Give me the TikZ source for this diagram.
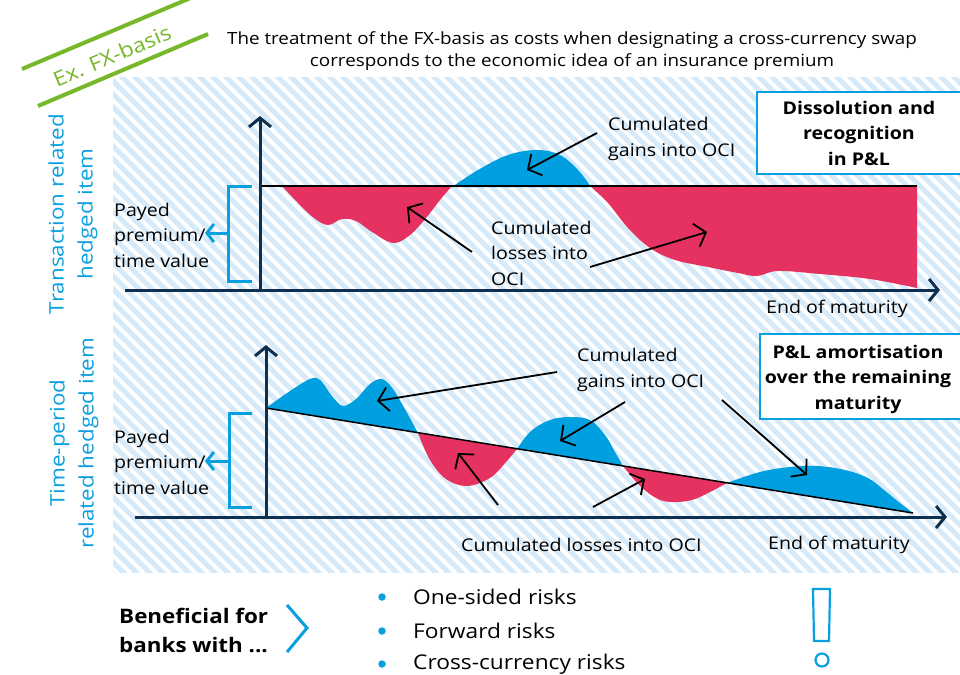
\documentclass[tikz,border=0pt]{standalone}
\usepackage{fontspec}
\setmainfont[FakeStretch=1.12]{Open Sans}
\usetikzlibrary{arrows.meta}

\definecolor{navy}{HTML}{0E2F4E}
\definecolor{cyanblue}{HTML}{0AA0E0}
\definecolor{lossred}{HTML}{E63260}
\definecolor{gainblue}{HTML}{00A0E0}
\definecolor{exgreen}{HTML}{76B82A}
\definecolor{hatchblue}{HTML}{D6EAF9}

\begin{document}
\begin{tikzpicture}[x=1pt,y=-1pt,
  axisline/.style={draw=navy, line width=3pt, -{Straight Barb[length=9pt,width=22pt]}},
  callout/.style={draw=black, line width=1.8pt, -{Straight Barb[length=10pt,width=24pt]}},
  bracketline/.style={draw=cyanblue, line width=3pt},
  bracketarrow/.style={draw=cyanblue, line width=3pt, -{Straight Barb[length=7pt,width=18pt]}},
  basetext/.style={inner sep=0pt, font=\fontsize{17.5}{25.5}\selectfont, align=left},
  sidelabel/.style={inner sep=0pt, text=cyanblue, font=\fontsize{20}{29}\selectfont, align=center, rotate=90},
  infobox/.style={draw=cyanblue, line width=2.5pt, fill=white, inner sep=0pt},
  infotext/.style={inner sep=0pt, font=\bfseries\fontsize{17.5}{25.5}\selectfont, align=center},
  lossarea/.style={fill=lossred},
  gainarea/.style={fill=gainblue},
  refline/.style={draw=black, line width=1.5pt},
  bullet/.style={circle, fill=cyanblue, inner sep=0pt, minimum size=7.5pt},
  listtext/.style={inner sep=0pt, anchor=west, font=\fontsize{20.3}{25}\selectfont}
]
\useasboundingbox (0,0) rectangle (960,674);
\fill[white] (0,0) rectangle (960,674);

% striped background band
\begin{scope}
  \clip (113,78) rectangle (960,572);
  \foreach \s in {-600,-587,...,960}
    \draw[hatchblue, line width=5pt] (\s,70) -- ++(510,510);
\end{scope}

% tag in the upper left corner
\coordinate (tagA1) at (22,69);
\coordinate (tagA2) at (200,-6);
\coordinate (tagB1) at (38,106);
\coordinate (tagB2) at (208,34);
\draw[exgreen, line width=4pt] (tagA1) -- (tagA2);
\draw[exgreen, line width=4pt] (tagB1) -- (tagB2);
\node[inner sep=0pt, text=exgreen, rotate=23, font=\fontsize{20.5}{25}\selectfont] (tag) at (112,56) {Ex. FX-basis};

% title
\node[inner sep=0pt, align=center, font=\fontsize{16.8}{22}\selectfont] (title) at (572,51)
  {The treatment of the FX-basis as costs when designating a cross-currency swap\\corresponds to the economic idea of an insurance premium};

% ---------- upper panel: transaction related hedged item ----------
\node[sidelabel] (lab1) at (73,214) {Transaction related\\hedged item};

% areas between curve and reference level
\fill[lossarea] plot[smooth, tension=0.6] coordinates {(282,186) (298,203) (314,218) (328,225) (342,219) (356,221) (372,232) (393,243) (410,235) (426,218) (440,200) (452,186)} -- cycle;
\fill[gainarea] plot[smooth, tension=0.6] coordinates {(452,187) (478,170) (508,155) (537,150) (560,155) (578,170) (591,187)} -- cycle;
\fill[lossarea] plot[smooth, tension=0.6] coordinates {(590,186) (608,203) (628,228) (650,248) (675,260) (708,267) (738,273) (757,276) (778,271) (820,274) (870,279) (917,288)} -- (917,186) -- cycle;

\coordinate (r1a) at (260,186);
\coordinate (r1b) at (917,186);
\draw[refline] (r1a) -- (r1b);

% axes
\coordinate (ax1o) at (125,290);
\coordinate (ax1x) at (940,290);
\coordinate (ay1o) at (260,292);
\coordinate (ay1y) at (260,116);
\draw[axisline] (ax1o) -- (ax1x);
\draw[axisline] (ay1o) -- (ay1y);

% premium bracket
\coordinate (b1t) at (252,186);
\coordinate (b1b) at (252,281);
\coordinate (b1m) at (228,233);
\coordinate (b1e) at (205,233);
\draw[bracketline] (b1t) -- (228,186) -- (228,281) -- (b1b);
\draw[bracketarrow] (b1m) -- (b1e);
\node[basetext, anchor=west] (prem1) at (114,235) {Payed\\premium/\\time value};

% annotations
\node[basetext, anchor=west] (gain1) at (608,139) {Cumulated\\gains into OCI};
\node[basetext, anchor=west] (loss1) at (491,253) {Cumulated\\losses into\\OCI};
\coordinate (g1s) at (597,133);
\coordinate (g1e) at (527,170);
\coordinate (l1s) at (472,252);
\coordinate (l1e) at (407,207);
\coordinate (l2s) at (590,267);
\coordinate (l2e) at (707,232);
\draw[callout] (g1s) -- (g1e);
\draw[callout] (l1s) -- (l1e);
\draw[callout] (l2s) -- (l2e);

\node[basetext, anchor=west] (end1) at (766,309) {End of maturity};

\path[infobox] (757,92) rectangle (975,174);
\node[infotext] (box1) at (859,133) {Dissolution and\\recognition\\in P\&L};

% ---------- lower panel: time-period related hedged item ----------
\node[sidelabel] (lab2) at (74,443) {Time-period\\related hedged item};

\fill[gainarea] plot[smooth, tension=0.55] coordinates {(266,408) (290,391) (310,379) (320,380) (332,396) (343,406) (356,399) (370,384) (382,379) (393,389) (406,411) (418,433)} -- cycle;
\fill[lossarea] plot[smooth, tension=0.6] coordinates {(418,433) (430,460) (446,479) (467,486) (490,478) (506,462) (517,449)} -- cycle;
\fill[gainarea] plot[smooth, tension=0.6] coordinates {(517,449) (531,431) (550,420) (570,417) (590,420) (605,435) (615,452) (623,466)} -- cycle;
\fill[lossarea] plot[smooth, tension=0.6] coordinates {(623,466) (640,486) (658,499) (673,502) (692,500) (710,492) (727,483)} -- cycle;
\fill[gainarea] plot[smooth, tension=0.6] coordinates {(727,483) (760,472) (790,467) (817,466) (845,470) (868,478) (884,490) (900,503) (913,513)} -- cycle;

\coordinate (r2a) at (266,408);
\coordinate (r2b) at (913,513);
\draw[refline] (r2a) -- (r2b);

\coordinate (ax2o) at (135,517);
\coordinate (ax2x) at (947,517);
\coordinate (ay2o) at (266,519);
\coordinate (ay2y) at (266,345);
\draw[axisline] (ax2o) -- (ax2x);
\draw[axisline] (ay2o) -- (ay2y);

\coordinate (b2t) at (252,413);
\coordinate (b2b) at (252,507);
\coordinate (b2m) at (229,461);
\coordinate (b2e) at (205,461);
\draw[bracketline] (b2t) -- (229,413) -- (229,507) -- (b2b);
\draw[bracketarrow] (b2m) -- (b2e);
\node[basetext, anchor=west] (prem2) at (114,462) {Payed\\premium/\\time value};

\node[basetext, anchor=west] (gain2) at (577,370) {Cumulated\\gains into OCI};
\node[basetext, anchor=west] (loss2) at (461,545) {Cumulated losses into OCI};
\node[basetext, anchor=west] (end2) at (768,545) {End of maturity};

\coordinate (g2s) at (557,372);
\coordinate (g2e) at (377,401);
\coordinate (g3s) at (625,402);
\coordinate (g3e) at (560,441);
\coordinate (g4s) at (722,400);
\coordinate (g4e) at (807,475);
\coordinate (l3s) at (498,505);
\coordinate (l3e) at (458,453);
\coordinate (l4s) at (593,507);
\coordinate (l4e) at (645,479);
\draw[callout] (g2s) -- (g2e);
\draw[callout] (g3s) -- (g3e);
\draw[callout] (g4s) -- (g4e);
\draw[callout] (l3s) -- (l3e);
\draw[callout] (l4s) -- (l4e);

\path[infobox] (760,334) rectangle (975,419);
\node[infotext] (box2) at (858,379) {P\&L amortisation\\over the remaining\\maturity};

% ---------- footer ----------
\node[inner sep=0pt, anchor=west, align=left, font=\bfseries\fontsize{20}{29}\selectfont] (benef) at (119,630) {Beneficial for\\banks with ...};
\coordinate (chevT) at (287,605);
\coordinate (chevM) at (307,628);
\coordinate (chevB) at (287,652);
\draw[cyanblue, line width=3pt] (chevT) -- (chevM) -- (chevB);

\node[bullet] (d1) at (382,597) {};
\node[bullet] (d2) at (382,631) {};
\node[bullet] (d3) at (382,664) {};
\node[listtext] (t1) at (413,597) {One-sided risks};
\node[listtext] (t2) at (413,631) {Forward risks};
\node[listtext] (t3) at (413,664) {Cross-currency risks};

% exclamation mark
\draw[cyanblue, line width=2.2pt] (813,589) -- (830,589) -- (829,641) -- (814,641) -- cycle;
\draw[cyanblue, line width=2.2pt] (822,660) circle[radius=6.5pt];
\end{tikzpicture}
\end{document}
